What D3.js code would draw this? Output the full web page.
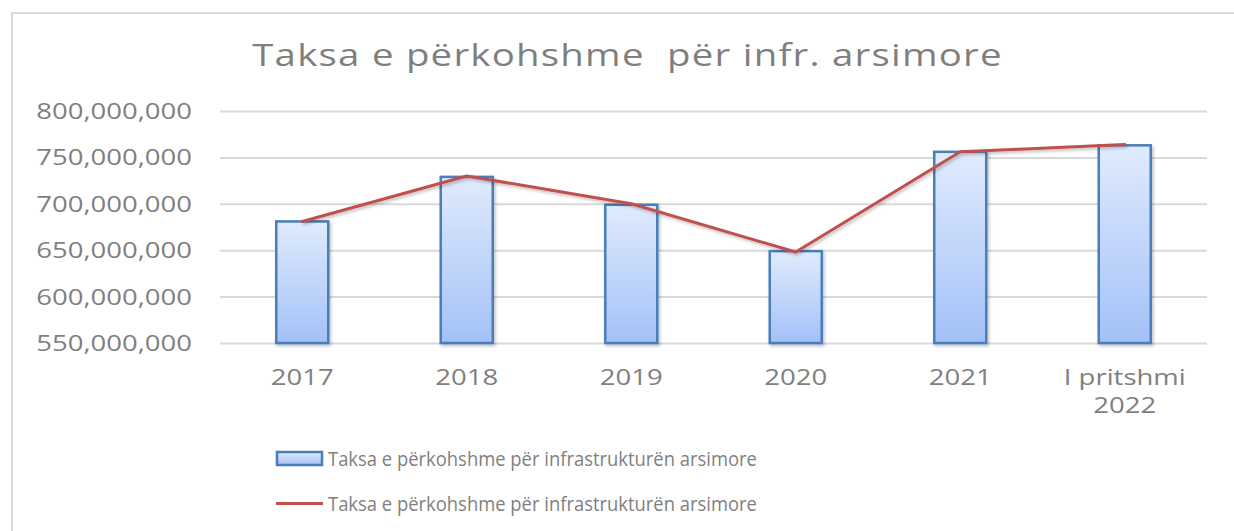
<!DOCTYPE html>
<html>
<head>
<meta charset="utf-8">
<script src="https://cdn.jsdelivr.net/npm/d3@7"></script>
<style>
    html, body { margin: 0; padding: 0; background: #ffffff; }
    #chart { width: 1234px; height: 531px; }
    text { font-family: "Open Sans", "Noto Sans", sans-serif; white-space: pre; }
</style>
</head>
<body>
<div id="chart"></div>
<script>
const categories = ['2017', '2018', '2019', '2020', '2021', 'I pritshmi 2022'];
const categoryLines = [['2017'], ['2018'], ['2019'], ['2020'], ['2021'], ['I pritshmi', '2022']];
const barValues = [681000000, 729000000, 699000000, 649000000, 756000000, 763000000];
const lineValues = [681000000, 730000000, 700000000, 648000000, 756000000, 764000000];
const yTicks = [550000000, 600000000, 650000000, 700000000, 750000000, 800000000];
const seriesNames = ['Taksa e përkohshme për infrastrukturën arsimore', 'Taksa e përkohshme për infrastrukturën arsimore'];
const chartTitle = 'Taksa e përkohshme  për infr. arsimore';

class Chart {
    constructor() {
        const attrs = {
            container: '#chart',
            svgWidth: 1234,
            svgHeight: 531,
            plotLeft: 220,
            plotRight: 1207,
            plotTop: 111,
            plotBottom: 343,
            textStretch: 1.25,
            textFill: '#7f7f7f',
            gridColor: '#d9d9d9',
            barStroke: '#4a7ebb',
            lineColor: '#c0504d'
        };
        this.getState = () => attrs;
        this.setState = (d) => Object.assign(attrs, d);
    }

    render() {
        this.drawSvg();
        this.drawAxes();
        this.drawBars();
        this.drawLine();
        this.drawLegend();
    }

    // text in the picture is stretched sideways, so wrap each label in a scaled group
    // fitWidth: optional width the text should be squeezed/stretched to
    stretchedText(parent, x, y, str, size, anchor, fitWidth, spacing) {
        const { textStretch, textFill } = this.getState();
        const g = parent.append('g');
        const t = g.append('text')
            .attr('text-anchor', anchor)
            .attr('font-size', size)
            .attr('letter-spacing', spacing || 0)
            .attr('fill', textFill)
            .text(str);
        let sx = textStretch;
        if (fitWidth) {
            const w = t.node().getBBox().width;
            if (w > 0) sx = fitWidth / w;
        }
        g.attr('transform', `translate(${x},${y}) scale(${sx},1)`);
        return g;
    }

    drawSvg() {
        const { container, svgWidth, svgHeight, gridColor } = this.getState();
        const svg = d3.select(container).append('svg')
            .attr('width', svgWidth)
            .attr('height', svgHeight);

        const defs = svg.append('defs');
        const grad = defs.append('linearGradient')
            .attr('id', 'barGrad')
            .attr('x1', 0).attr('y1', 0).attr('x2', 0).attr('y2', 1);
        grad.append('stop').attr('offset', '0%').attr('stop-color', '#e0ebfd');
        grad.append('stop').attr('offset', '100%').attr('stop-color', '#a3c1f8');

        const shadow = defs.append('filter').attr('id', 'shadow')
            .attr('x', '-20%').attr('y', '-20%').attr('width', '150%').attr('height', '150%');
        shadow.append('feDropShadow')
            .attr('dx', 1.5).attr('dy', 2).attr('stdDeviation', 1.5)
            .attr('flood-color', '#000').attr('flood-opacity', 0.25);

        // outer chart border
        svg.append('path')
            .attr('d', `M12,${svgHeight + 5} L12,13 L${svgWidth + 5},13`)
            .attr('fill', 'none')
            .attr('stroke', gridColor)
            .attr('stroke-width', 2);

        this.setState({ svg });
        this.stretchedText(svg, 627.5, 66, chartTitle, 31, 'middle', 751, 1);
    }

    drawAxes() {
        const { svg, plotLeft, plotRight, plotTop, plotBottom, gridColor } = this.getState();

        const xScale = d3.scaleBand()
            .domain(categories)
            .range([plotLeft, plotRight])
            .paddingInner(0.684)
            .paddingOuter(0.342);

        const yScale = d3.scaleLinear()
            .domain([yTicks[0], yTicks[yTicks.length - 1]])
            .range([plotBottom, plotTop]);

        const yAxis = d3.axisLeft(yScale)
            .tickValues(yTicks)
            .tickSize(-(plotRight - plotLeft))
            .tickFormat('');

        const yAxisWrap = svg.append('g')
            .attr('class', 'y-axis')
            .attr('transform', `translate(${plotLeft},0)`)
            .call(yAxis);
        yAxisWrap.select('.domain').remove();
        yAxisWrap.selectAll('.tick line')
            .attr('stroke', gridColor)
            .attr('stroke-width', 2);

        const fmt = d3.format(',');
        yTicks.forEach(t => {
            this.stretchedText(svg, 192, yScale(t) + 8, fmt(t), 22, 'end');
        });

        categories.forEach((c, i) => {
            const cx = xScale(c) + xScale.bandwidth() / 2;
            categoryLines[i].forEach((line, j) => {
                this.stretchedText(svg, cx, 385 + j * 28, line, 22, 'middle');
            });
        });

        this.setState({ xScale, yScale });
    }

    drawBars() {
        const { svg, xScale, yScale, barStroke } = this.getState();
        const baseline = yScale(yTicks[0]);

        svg.append('g').attr('class', 'bars')
            .selectAll('rect')
            .data(barValues)
            .join('rect')
            .attr('x', (d, i) => xScale(categories[i]))
            .attr('y', d => yScale(d))
            .attr('width', xScale.bandwidth())
            .attr('height', d => baseline - yScale(d))
            .attr('fill', 'url(#barGrad)')
            .attr('stroke', barStroke)
            .attr('stroke-width', 2.5)
            .attr('filter', 'url(#shadow)');
    }

    drawLine() {
        const { svg, xScale, yScale, lineColor } = this.getState();

        const line = d3.line()
            .x((d, i) => xScale(categories[i]) + xScale.bandwidth() / 2)
            .y(d => yScale(d));

        svg.append('path')
            .datum(lineValues)
            .attr('d', line)
            .attr('fill', 'none')
            .attr('stroke', lineColor)
            .attr('stroke-width', 3)
            .attr('stroke-linejoin', 'round')
            .attr('stroke-linecap', 'round')
            .attr('filter', 'url(#shadow)');
    }

    drawLegend() {
        const { svg, barStroke, lineColor } = this.getState();
        const legend = svg.append('g').attr('class', 'legend');

        legend.append('rect')
            .attr('x', 277).attr('y', 452)
            .attr('width', 45).attr('height', 13)
            .attr('fill', 'url(#barGrad)')
            .attr('stroke', barStroke)
            .attr('stroke-width', 2.5);
        this.stretchedText(legend, 328, 466, seriesNames[0], 20, 'start', 429);

        legend.append('line')
            .attr('x1', 276).attr('x2', 323)
            .attr('y1', 503.5).attr('y2', 503.5)
            .attr('stroke', lineColor)
            .attr('stroke-width', 3);
        this.stretchedText(legend, 328, 511, seriesNames[1], 20, 'start', 429);
    }
}

new Chart().render();
</script>
</body>
</html>
